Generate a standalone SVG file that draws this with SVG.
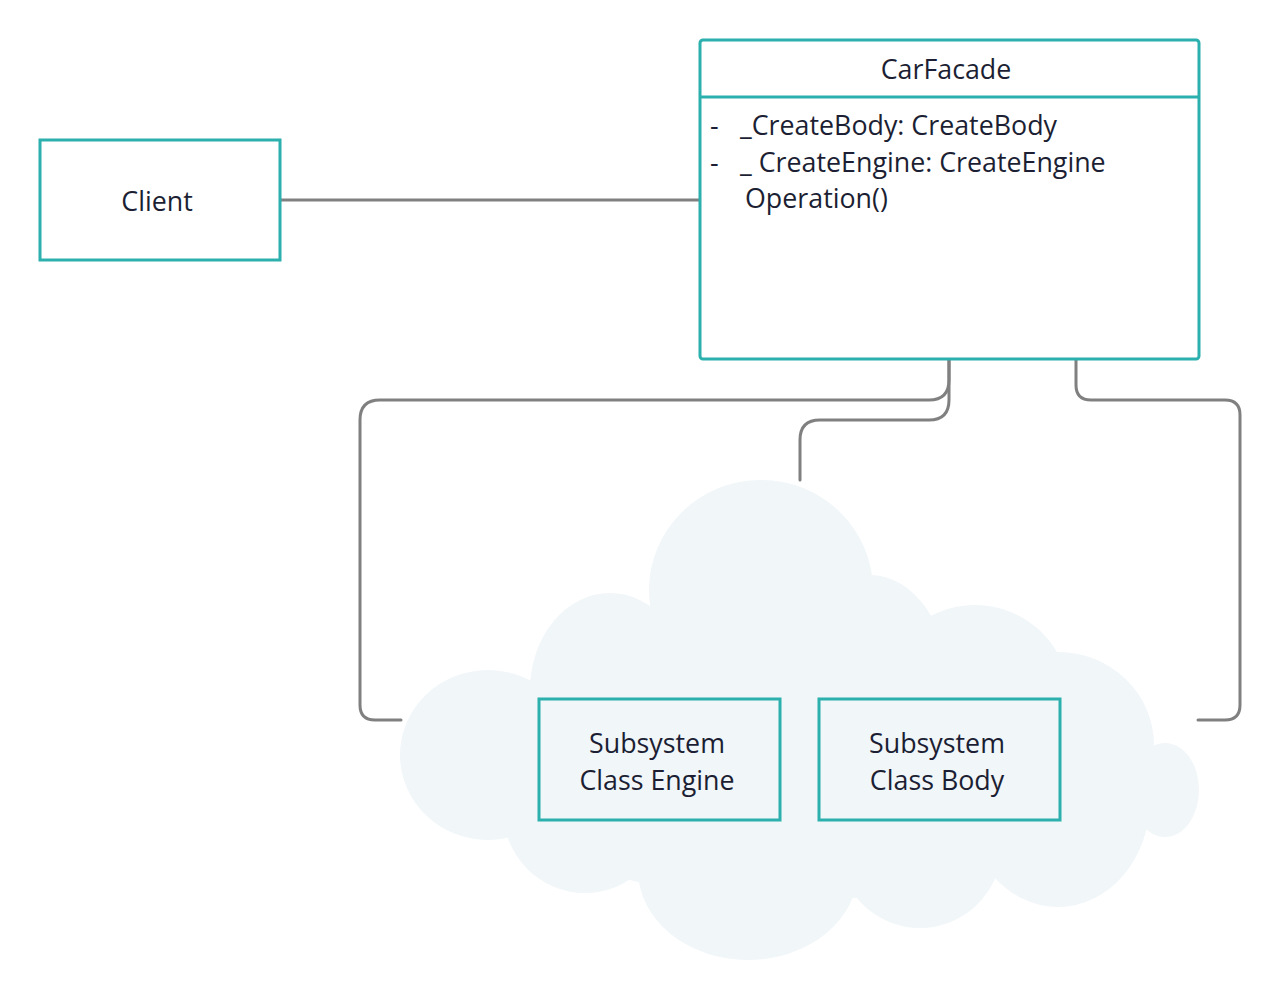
<svg xmlns="http://www.w3.org/2000/svg" width="1280" height="1005" viewBox="0 0 1280 1005">
<style>
.box{fill:#ffffff;stroke:#2bb0ad;stroke-width:3}
.sub{fill:#f1f6f9;stroke:#2bb0ad;stroke-width:3}
.t{font-family:"Open Sans","Noto Sans",sans-serif;font-size:26.8px;fill:#1c1f33}
.c{text-anchor:middle}
.conn{fill:none;stroke:#808080;stroke-width:3;stroke-linecap:round}
.cloud{fill:#f1f6f9}
</style>
<rect width="1280" height="1005" fill="#ffffff"/>
<g id="cloud" class="cloud">
<ellipse cx="761" cy="590" rx="112" ry="110"/>
<ellipse cx="870" cy="690" rx="80" ry="115"/>
<ellipse cx="975" cy="700" rx="95" ry="95"/>
<ellipse cx="1058" cy="745" rx="96" ry="93"/>
<ellipse cx="1165" cy="790" rx="34" ry="47"/>
<ellipse cx="1058" cy="800" rx="92" ry="107"/>
<ellipse cx="920" cy="845" rx="82" ry="83"/>
<ellipse cx="748" cy="870" rx="110" ry="90"/>
<ellipse cx="585" cy="810" rx="82" ry="83"/>
<ellipse cx="488" cy="755" rx="88" ry="85"/>
<ellipse cx="610" cy="690" rx="80" ry="97"/>
<ellipse cx="800" cy="760" rx="330" ry="140"/>
</g>
<g id="connectors">
<path class="conn" d="M281,200 H700"/>
<path class="conn" d="M949,359 V380 Q949,400 929,400 H380 Q360,400 360,420 V705 Q360,720 375,720 H401"/>
<path class="conn" d="M949,359 V400 Q949,420 929,420 H820 Q800,420 800,440 V480"/>
<path class="conn" d="M1076,359 V385 Q1076,400 1091,400 H1225 Q1240,400 1240,415 V705 Q1240,720 1225,720 H1198"/>
</g>
<g id="client">
<rect class="box" x="40" y="140" width="240" height="120"/>
<text class="t c" x="157" y="211">Client</text>
</g>
<g id="carfacade">
<rect class="box" x="700" y="40" width="499" height="319" rx="3"/>
<line x1="700" y1="97" x2="1199" y2="97" stroke="#2bb0ad" stroke-width="3"/>
<text class="t c" x="946" y="79">CarFacade</text>
<text class="t" x="710" y="135">-</text>
<text class="t" x="740" y="135">_CreateBody: CreateBody</text>
<text class="t" x="710" y="172">-</text>
<text class="t" x="740" y="172">_ CreateEngine: CreateEngine</text>
<text class="t" x="745" y="208">Operation()</text>
</g>
<g id="engine">
<rect class="sub" x="539" y="699" width="241" height="121"/>
<text class="t c" x="657" y="753">Subsystem</text>
<text class="t c" x="657" y="790">Class Engine</text>
</g>
<g id="body">
<rect class="sub" x="819" y="699" width="241" height="121"/>
<text class="t c" x="937" y="753">Subsystem</text>
<text class="t c" x="937" y="790">Class Body</text>
</g>
</svg>
